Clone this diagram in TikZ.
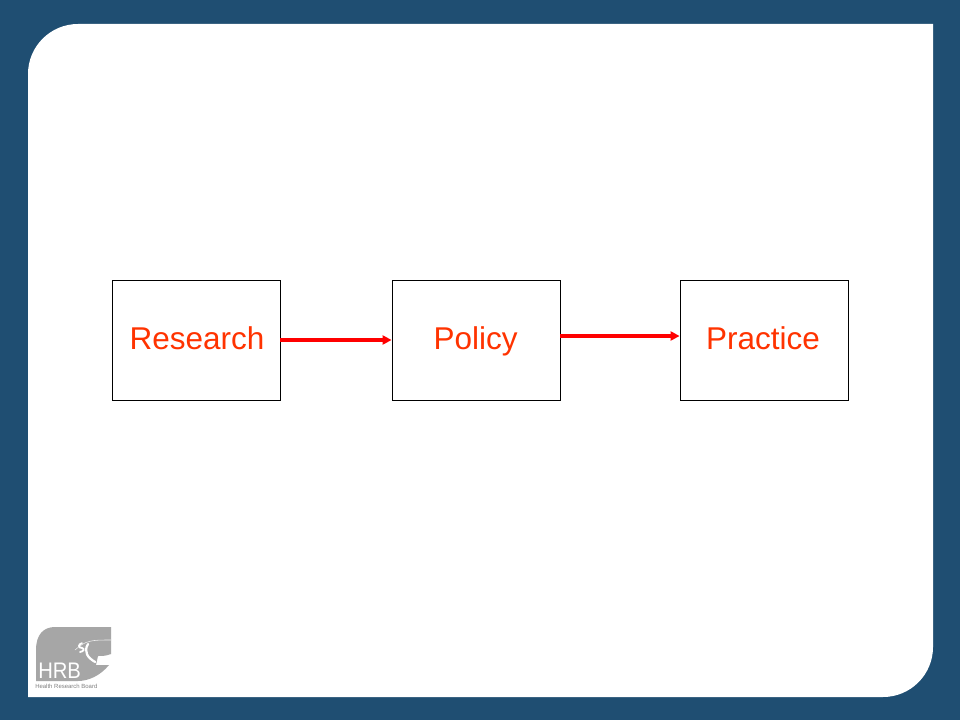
\documentclass[tikz,border=0pt]{standalone}
\usepackage{fontspec}
\setmainfont{Liberation Sans}
\usetikzlibrary{arrows.meta}
\definecolor{hrbblue}{HTML}{1F4E72}
\definecolor{hrbgrey}{HTML}{A6A6A6}
\definecolor{hrbtext}{HTML}{FF3300}
\begin{document}
\begin{tikzpicture}
	\tikzstyle{stage}=[draw,line width=0.6pt,minimum width=4.2cm,minimum height=3cm,inner sep=0pt]
	\tikzstyle{stagetext}=[text=hrbtext,font=\fontsize{22.4}{26}\selectfont,inner sep=0pt,anchor=base]
	\tikzstyle{link}=[-{Triangle[length=0.225cm,width=0.225cm]},red,line width=0.076cm]
	\useasboundingbox (0,0) rectangle (24,18);
	\fill[hrbblue] (0,0) rectangle (24,18);
	\fill[white] (0.7,0.575) -- (22.075,0.575) arc (-90:0:1.25) -- (23.325,17.4) -- (1.95,17.4) arc (90:180:1.25) -- cycle;
	% logo
	\fill[hrbgrey] (0.9,0.975) -- (0.9,1.75) .. controls (0.9,2.15) and (1.1,2.325) .. (1.375,2.325) -- (2.775,2.325) -- (2.775,1.65) .. controls (2.65,1.6) and (2.55,1.6) .. (2.45,1.6) -- (2.4,1.375) -- (2.725,1.375) .. controls (2.5,1.1) and (2.2,0.975) .. (1.95,0.975) -- cycle;
	\draw[white!80!hrbgrey,line width=0.4pt] (1.875,1.75) .. controls (2.15,2.0) and (2.3,2.0) .. (2.775,2.0);
	\draw[white,line width=1.6pt,line cap=round] (2.2,1.9) .. controls (2.08,1.7) and (2.2,1.55) .. (2.38,1.45);
	\draw[white,line width=1.3pt,line cap=round] (2.05,1.92) .. controls (1.95,1.9) and (1.95,1.8) .. (2.05,1.8) .. controls (2.12,1.78) and (2.1,1.72) .. (2.0,1.7);
	\node[text=white,font=\fontsize{16}{16}\selectfont,xscale=0.9,inner sep=0pt,anchor=base west](hrbname)at(0.95,1.03){HRB};
	\node[text=gray,font=\fontsize{4.25}{4.5}\selectfont,inner sep=0pt,anchor=base west](hrbfull)at(0.875,0.8){Health Research Board};
	\node[stage](research)at(4.9,9.5){};
	\node[stage](policy)at(11.9,9.5){};
	\node[stage](practice)at(19.1,9.5){};
	\node[stagetext](researchtext)at(4.925,9.275){Research};
	\node[stagetext](policytext)at(11.89,9.275){Policy};
	\node[stagetext](practicetext)at(19.075,9.275){Practice};
	\draw[link] (research) -- (policy);
	\draw[link] ([yshift=0.1cm]policy.east) -- ([yshift=0.1cm]practice.west);
\end{tikzpicture}
\end{document}
